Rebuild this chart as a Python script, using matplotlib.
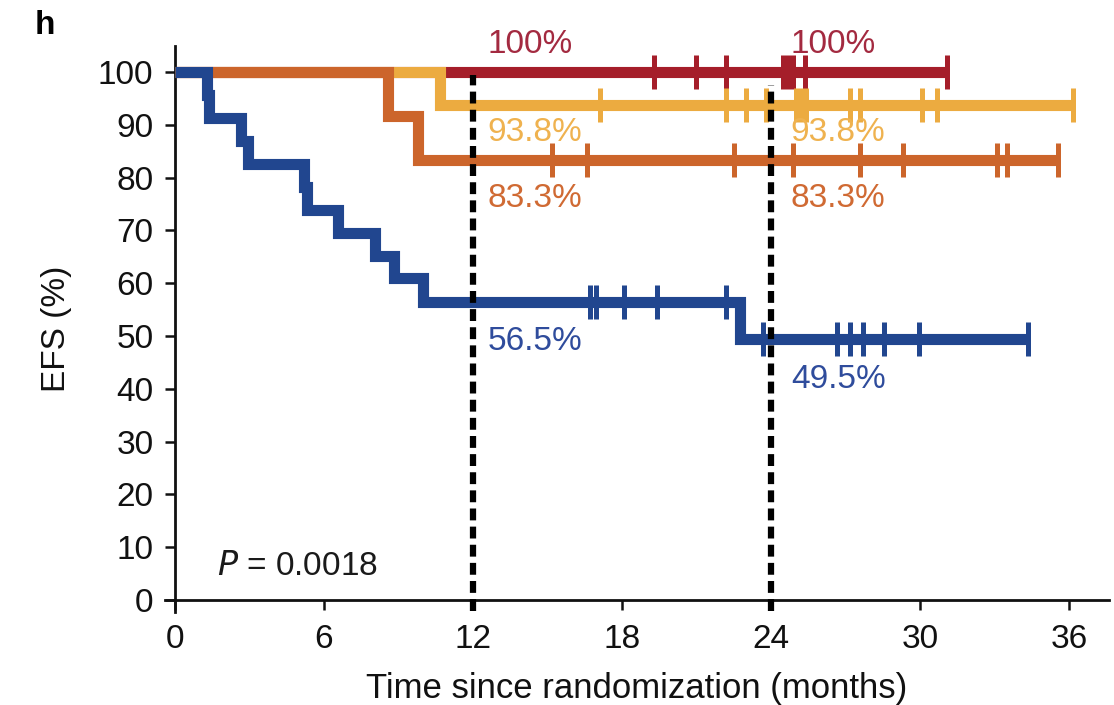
import matplotlib
matplotlib.use("Agg")
import matplotlib.pyplot as plt

plt.rcParams['font.family'] = ['Liberation Sans', 'DejaVu Sans']

# ---- data ----
blue_times = [0, 1.28, 1.38, 2.65, 2.95, 5.2, 5.32, 6.55, 8.05, 8.8, 10.0, 22.75, 34.35]
blue_surv = [100, 95.65, 91.3, 87.0, 82.6, 78.3, 73.9, 69.6, 65.2, 60.9, 56.5, 49.5, 49.5]
blue_cens_t = [16.7, 16.95, 18.1, 19.4, 22.2, 23.7, 26.65, 27.2, 27.7, 28.55, 29.96, 34.35]
blue_cens_s = [56.5, 56.5, 56.5, 56.5, 56.5, 49.5, 49.5, 49.5, 49.5, 49.5, 49.5, 49.5]

orange_times = [0, 8.58, 9.8, 35.55]
orange_surv = [100, 91.67, 83.3, 83.3]
orange_cens_t = [15.2, 16.6, 22.5, 24.9, 27.6, 29.3, 33.1, 33.5, 35.55]

yellow_times = [0, 10.67, 36.15]
yellow_surv = [100, 93.75, 93.75]
yellow_cens_t = [17.1, 22.2, 23.0, 23.8, 25.0, 25.2, 25.4, 27.2, 27.6, 30.1, 30.7, 36.15]

red_times = [0, 31.1]
red_surv = [100, 100]
red_cens_t = [19.3, 21.0, 22.2, 24.5, 24.7, 24.9, 25.37, 31.1]

x_ticks = [0, 6, 12, 18, 24, 30, 36]
y_ticks = list(range(0, 101, 10))
landmarks = [12, 24]
landmark_tops = [99.5, 97.5]

labels = [
    ("100%", 12.6, 105.3, "red"),
    ("100%", 24.8, 105.3, "red"),
    ("93.8%", 12.6, 88.6, "yellow"),
    ("93.8%", 24.8, 88.6, "yellow"),
    ("83.3%", 12.6, 76.1, "orange"),
    ("83.3%", 24.8, 76.1, "orange"),
    ("56.5%", 12.6, 48.9, "blue"),
    ("49.5%", 24.8, 41.7, "blue"),
]

colors = {"blue": "#21468f", "orange": "#cc652b", "yellow": "#ecab40", "red": "#a51e2a"}
text_colors = {"blue": "#2f4c9c", "orange": "#d06a33", "yellow": "#efb24f", "red": "#a32a40"}

# ---- figure ----
W, H = 1114, 705
fig = plt.figure(figsize=(W / 100, H / 100), dpi=100)
x0_px, xpm = 175, 24.83
y0_px, ypp = 600, 5.28
xmin, xmax = -0.4, 37.6
ymin, ymax = -2.2, 105
left = (x0_px + xmin * xpm) / W
right = (x0_px + xmax * xpm) / W
bottom = (H - (y0_px - ymin * ypp)) / H
top = (H - (y0_px - ymax * ypp)) / H
ax = fig.add_axes([left, bottom, right - left, top - bottom])
ax.set_xlim(xmin, xmax)
ax.set_ylim(ymin, ymax)

lw = 8.0
ms = 25
mew = 3.6
FS = 24

series = [
    ("red", red_times, red_surv, red_cens_t, [100] * len(red_cens_t), 2),
    ("yellow", yellow_times, yellow_surv, yellow_cens_t, [93.75] * len(yellow_cens_t), 3),
    ("orange", orange_times, orange_surv, orange_cens_t, [83.3] * len(orange_cens_t), 4),
    ("blue", blue_times, blue_surv, blue_cens_t, blue_cens_s, 5),
]
for name, t, s, ct, cs, z in series:
    ax.step(t, s, where="post", color=colors[name], lw=lw, zorder=z,
            solid_joinstyle="miter", solid_capstyle="butt")
    ax.plot(ct, cs, linestyle="none", marker="|", ms=ms, mew=mew,
            color=colors[name], zorder=z)

for xl, yt in zip(landmarks, landmark_tops):
    ax.plot([xl, xl], [-2.0, yt], color="black", lw=4.5,
            linestyle=(0, (1.9, 1.0)), zorder=6, clip_on=False)

for txt, x, y, c in labels:
    ax.text(x, y, txt, color=text_colors[c], fontsize=FS, ha="left",
            va="center", zorder=7, clip_on=False)

ax.text(1.7, 6.4, r"$\mathit{P}$ = 0.0018", fontsize=FS, ha="left", va="center",
        color="#1a1a1a")

for sp in ["top", "right"]:
    ax.spines[sp].set_visible(False)
ax.spines["left"].set_position(("data", 0))
ax.spines["bottom"].set_position(("data", 0))
for sp in ["left", "bottom"]:
    ax.spines[sp].set_linewidth(2.0)
    ax.spines[sp].set_color("#111111")

ax.set_xticks(x_ticks)
ax.set_yticks(y_ticks)
ax.tick_params(axis="x", direction="out", length=7.5, width=1.8,
               labelsize=FS, colors="#111111", pad=10)
ax.tick_params(axis="y", direction="out", length=7.5, width=1.8,
               labelsize=FS, colors="#111111", pad=8)
ax.set_xlabel("Time since randomization (months)", fontsize=25, labelpad=12,
              color="#111111")
ax.set_ylabel("EFS (%)", fontsize=24, labelpad=19, color="#111111")

fig.text(35 / W, 1 - 25 / H, "h", fontsize=24, fontweight="bold", ha="left",
         va="center")

fig.savefig("out.png", dpi=100)
